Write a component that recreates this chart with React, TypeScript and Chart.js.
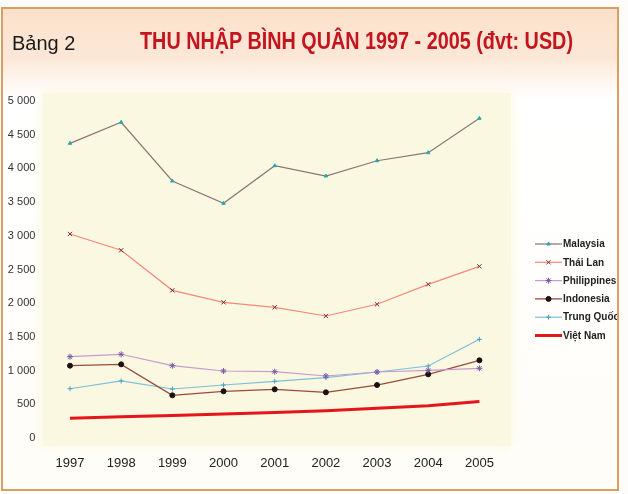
import React, { useEffect, useLayoutEffect, useRef } from "react";
import { Chart, registerables } from "chart.js";
import { drawPoint } from "chart.js/helpers";

Chart.register(...registerables);

// ---- data ----
const years = ["1997", "1998", "1999", "2000", "2001", "2002", "2003", "2004", "2005"];
const malaysia = [4372, 4684, 3813, 3482, 4040, 3887, 4114, 4233, 4743];
const thaiLan = [3027, 2785, 2191, 2013, 1939, 1810, 1984, 2280, 2547];
const philippines = [1206, 1242, 1073, 994, 984, 920, 979, 1004, 1034];
const indonesia = [1073, 1093, 633, 693, 722, 678, 786, 945, 1153];
const trungQuoc = [731, 846, 727, 786, 841, 895, 979, 1068, 1464];
const vietNam = [292, 315, 335, 355, 380, 405, 440, 480, 540];
const yMin = 0;
const yMax = 5000;
const yStep = 500;

const SANS = "'Liberation Sans', Arial, Helvetica, sans-serif";

const fmt = (v: number) => String(v).replace(/\B(?=(\d{3})+(?!\d))/g, " ");

const plotBg = {
  id: "plotBg",
  beforeDraw(chart: any) {
    const { ctx, chartArea } = chart;
    const { left, top, right, bottom } = chartArea;
    ctx.save();
    ctx.fillStyle = "#fbf8e1";
    ctx.shadowColor = "#fbf8e1";
    ctx.shadowBlur = 14;
    ctx.fillRect(left - 2, top - 8, right - left + 8, bottom - top + 16);
    ctx.restore();
  },
};

const sideLegend = {
  id: "sideLegend",
  afterDraw(chart: any) {
    const { ctx, chartArea } = chart;
    const x0 = chartArea.right + 30;
    const y0 = 244;
    const step = 18.3;
    chart.data.datasets.forEach((ds: any, i: number) => {
      const y = y0 + i * step;
      ctx.save();
      ctx.strokeStyle = ds.borderColor;
      ctx.lineWidth = ds.borderWidth;
      ctx.beginPath();
      ctx.moveTo(x0, y);
      ctx.lineTo(x0 + 27, y);
      ctx.stroke();
      if (ds.pointRadius > 0) {
        ctx.fillStyle = ds.pointBackgroundColor;
        ctx.strokeStyle = ds.pointBorderColor;
        ctx.lineWidth = ds.pointBorderWidth;
        drawPoint(ctx, { pointStyle: ds.pointStyle, radius: ds.pointRadius, rotation: 0, borderWidth: ds.pointBorderWidth } as any, x0 + 13.5, y);
      }
      ctx.fillStyle = "#222";
      ctx.font = `bold 10px ${SANS}`;
      ctx.textBaseline = "middle";
      ctx.textAlign = "left";
      ctx.fillText(ds.label, x0 + 28, y + 0.5);
      ctx.restore();
    });
  },
};

function ChartCanvas() {
  const ref = useRef<HTMLCanvasElement | null>(null);
  useEffect(() => {
    if (!ref.current) return;
    const line = (label: string, data: number[], color: string, width: number, style: any, radius: number, pfill: string, pborder: string) => ({
      label,
      data,
      borderColor: color,
      backgroundColor: color,
      borderWidth: width,
      tension: 0,
      fill: false,
      pointStyle: style,
      pointRadius: radius,
      pointBackgroundColor: pfill,
      pointBorderColor: pborder,
      pointBorderWidth: 1,
    });
    const chart = new Chart(ref.current, {
      type: "line",
      data: {
        labels: years,
        datasets: [
          line("Malaysia", malaysia, "#8d7474", 1.2, "triangle", 2, "#2aa7b0", "#2aa7b0"),
          line("Thái Lan", thaiLan, "#f4897a", 1.2, "crossRot", 3, "#7a2a3a", "#7a2a3a"),
          line("Philippines", philippines, "#c79ad0", 1.2, "star", 3, "#7a5aa8", "#7a5aa8"),
          line("Indonesia", indonesia, "#9a4a3e", 1.3, "circle", 2.5, "#1a1010", "#1a1010"),
          line("Trung Quốc", trungQuoc, "#7fbfd6", 1.2, "cross", 2.5, "#4f9fc6", "#4f9fc6"),
          line("Việt Nam", vietNam, "#e3161b", 3, "circle", 0, "#e3161b", "#e3161b"),
        ],
      },
      options: {
        responsive: false,
        animation: false,
        layout: { padding: { top: 101, right: 112, bottom: 16, left: 0 } },
        plugins: {
          legend: { display: false },
          tooltip: { enabled: false },
          title: { display: false },
        },
        scales: {
          x: {
            type: "category",
            offset: true,
            grid: { display: false, drawTicks: false },
            border: { display: false },
            ticks: { color: "#222", font: { family: SANS, size: 13 }, padding: 18, maxRotation: 0 },
            afterFit: (s: any) => {
              s.height = 40;
            },
          },
          y: {
            min: yMin,
            max: yMax,
            grid: { display: false, drawTicks: false },
            border: { display: false },
            ticks: {
              stepSize: yStep,
              color: "#333",
              font: { family: SANS, size: 11 },
              padding: 9,
              callback: (v: any) => fmt(Number(v)),
            },
            afterFit: (s: any) => {
              s.width = 44.4;
            },
          },
        },
      } as any,
      plugins: [plotBg, sideLegend],
    });
    return () => chart.destroy();
  }, []);
  return <canvas ref={ref} width={617} height={494} style={{ position: "absolute", left: 0, top: 0, width: 617, height: 494 }} />;
}

function FitText({ width, style, children }: { width: number; style: any; children: any }) {
  const ref = useRef<HTMLSpanElement | null>(null);
  useLayoutEffect(() => {
    const el = ref.current;
    if (!el) return;
    el.style.transform = "none";
    const w = el.getBoundingClientRect().width;
    if (w > 0) el.style.transform = `scaleX(${width / w})`;
  }, [width]);
  return (
    <span ref={ref} style={{ ...style, display: "inline-block", transformOrigin: "0 0", whiteSpace: "nowrap" }}>
      {children}
    </span>
  );
}

export default function App() {
  return (
    <div style={{ position: "absolute", left: 0, top: 0, width: 628, height: 494, background: "#fdfcfa", overflow: "hidden" }}>
      <div
        style={{
          position: "absolute",
          left: 1,
          top: 7,
          width: 618,
          height: 484,
          boxSizing: "border-box",
          border: "2px solid #d89e62",
          background: "linear-gradient(to bottom, #fbe1cb 0px, #fce8d8 50px, #fef6ef 72px, #ffffff 90px, #fefdf8 100%)",
        }}
      />
      <ChartCanvas />
      <div style={{ position: "absolute", left: 12, top: 33, fontFamily: SANS, fontSize: 20, lineHeight: "20px", color: "#1a1a1a", whiteSpace: "nowrap" }}>
        Bảng 2
      </div>
      <div style={{ position: "absolute", left: 140, top: 30 }}>
        <FitText width={433} style={{ fontFamily: SANS, fontWeight: "bold", fontSize: 23, lineHeight: "23px", color: "#c4141e" }}>
          THU NHẬP BÌNH QUÂN 1997 - 2005 (đvt: USD)
        </FitText>
      </div>
    </div>
  );
}
